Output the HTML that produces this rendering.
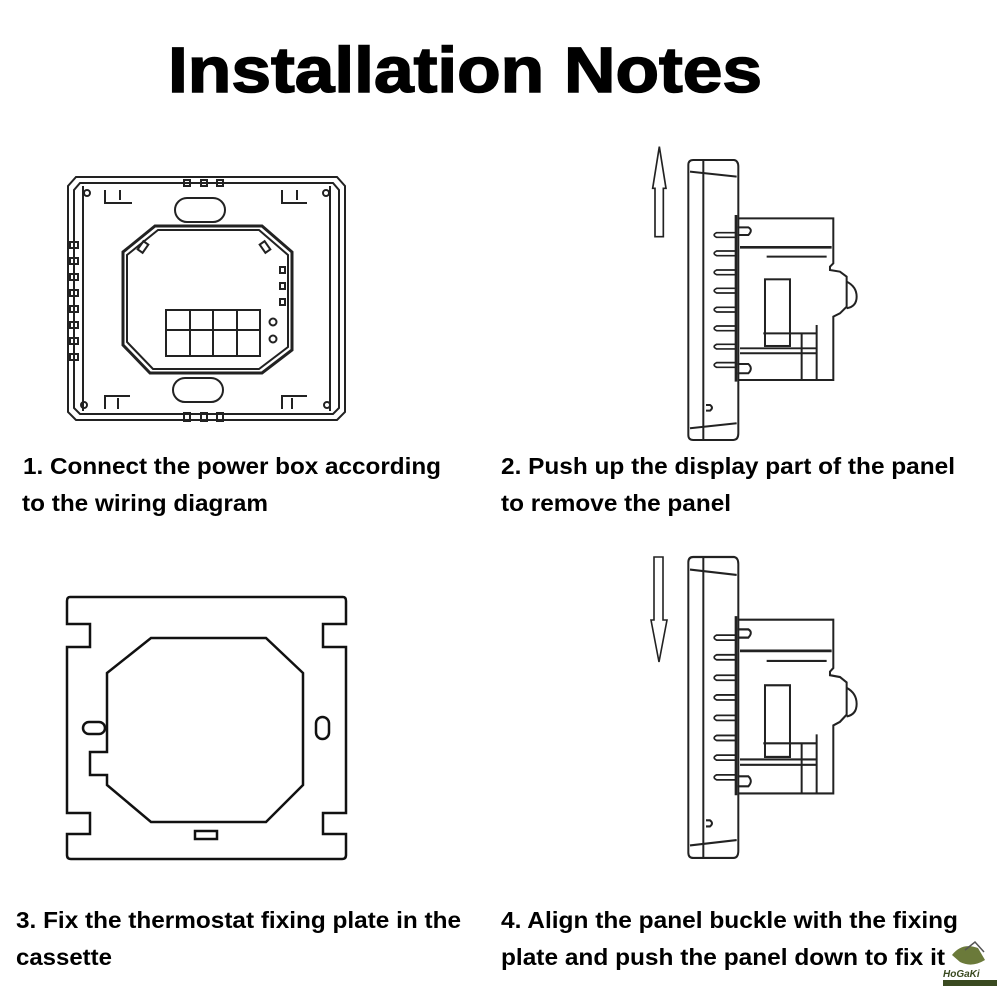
<!DOCTYPE html>
<html><head><meta charset="utf-8"><style>
html,body{margin:0;padding:0;background:#fff}
svg{display:block}
text{font-family:"Liberation Sans",Arial,sans-serif;font-weight:bold;fill:#000}
</style></head><body>
<svg width="1000" height="1000" viewBox="0 0 1000 1000" xmlns="http://www.w3.org/2000/svg">
<defs>
<g id="side" fill="none" stroke="#222" stroke-width="6">
  <path d="M175 75 Q175 60 190 60 L312 60 Q325 62 325 80 L325 880 Q325 900 310 900 L190 900 Q175 900 175 885 Z"/>
  <line x1="220" y1="62" x2="220" y2="898"/>
  <line x1="180" y1="95" x2="320" y2="110"/>
  <line x1="180" y1="865" x2="320" y2="850"/>
  <line x1="318" y1="225" x2="318" y2="725" stroke-width="8"/>
  <path d="M325 235 L610 235 L610 370 L600 380 L600 390 L630 395 L650 410 L650 500 L630 520 L610 530 L610 720 L325 720"/>
  <path d="M650 425 Q680 440 680 470 Q680 500 650 505"/>
  <line x1="330" y1="322" x2="605" y2="322" stroke-width="8"/>
  <line x1="410" y1="350" x2="590" y2="350"/>
  <rect x="405" y="418" width="75" height="200"/>
  <line x1="400" y1="580" x2="560" y2="580"/>
  <line x1="560" y1="555" x2="560" y2="720"/>
  <line x1="515" y1="580" x2="515" y2="720"/>
  <line x1="330" y1="625" x2="560" y2="625"/>
  <line x1="330" y1="640" x2="560" y2="640"/>
  <path d="M322 262 L355 262 Q370 270 355 285 L322 285"/>
  <path d="M322 672 L355 672 Q370 685 355 700 L322 700"/>
  <g stroke-width="5">
  <path d="M318 278 L260 278 Q245 285 260 292 L318 292"/>
  <path d="M318 333 L260 333 Q245 340 260 347 L318 347"/>
  <path d="M318 390 L260 390 Q245 397 260 404 L318 404"/>
  <path d="M318 445 L260 445 Q245 452 260 459 L318 459"/>
  <path d="M318 502 L260 502 Q245 509 260 516 L318 516"/>
  <path d="M318 558 L260 558 Q245 565 260 572 L318 572"/>
  <path d="M318 613 L260 613 Q245 620 260 627 L318 627"/>
  <path d="M318 668 L260 668 Q245 675 260 682 L318 682"/>
  </g>
  <path d="M228 795 L240 795 Q252 803 240 812 L228 812"/>
</g>
</defs>

<text x="168" y="92" font-size="64" textLength="594" lengthAdjust="spacingAndGlyphs" stroke="#000" stroke-width="1.5">Installation Notes</text>

<g fill="none" stroke="#222" stroke-width="2">
  <path d="M76 177 L337 177 L345 186 L345 412 L337 420 L76 420 L68 412 L68 186 Z"/>
  <path d="M80 183 L333 183 L339 190 L339 408 L333 414 L80 414 L74 408 L74 190 Z"/>
  <line x1="83" y1="186" x2="83" y2="411"/>
  <line x1="330" y1="186" x2="330" y2="411"/>
  <path d="M155 226 L262 226 L292 252 L292 350 L262 373 L150 373 L123 345 L123 252 Z" stroke-width="3"/>
  <path d="M158 230 L259 230 L288 255 L288 347 L259 369 L153 369 L127 342 L127 255 Z"/>
  <rect x="175" y="198" width="50" height="24" rx="12"/>
  <rect x="173" y="378" width="50" height="24" rx="12"/>
  <rect x="166" y="310" width="94" height="46"/>
  <line x1="166" y1="330" x2="260" y2="330"/>
  <line x1="190" y1="310" x2="190" y2="356"/>
  <line x1="213" y1="310" x2="213" y2="356"/>
  <line x1="237" y1="310" x2="237" y2="356"/>
  <circle cx="273" cy="322" r="3.5"/><circle cx="273" cy="339" r="3.5"/>
  <circle cx="87" cy="193" r="3"/><circle cx="326" cy="193" r="3"/>
  <circle cx="84" cy="405" r="3"/><circle cx="327" cy="405" r="3"/>
  <path d="M105 190 L105 203 L132 203 M120 190 L120 200"/>
  <path d="M282 190 L282 203 L307 203 M297 190 L297 200"/>
  <path d="M105 409 L105 396 L130 396 M118 409 L118 398"/>
  <path d="M282 409 L282 396 L307 396 M292 409 L292 398"/>
  <g><rect x="184" y="180" width="6" height="6"/><rect x="201" y="180" width="6" height="6"/><rect x="217" y="180" width="6" height="6"/>
  <rect x="184" y="413" width="6" height="8"/><rect x="201" y="413" width="6" height="8"/><rect x="217" y="413" width="6" height="8"/></g>
  <g><rect x="70" y="242" width="8" height="6"/><rect x="70" y="258" width="8" height="6"/><rect x="70" y="274" width="8" height="6"/><rect x="70" y="290" width="8" height="6"/><rect x="70" y="306" width="8" height="6"/><rect x="70" y="322" width="8" height="6"/><rect x="70" y="338" width="8" height="6"/><rect x="70" y="354" width="8" height="6"/></g>
  <rect x="280" y="267" width="5" height="6"/><rect x="280" y="283" width="5" height="6"/><rect x="280" y="299" width="5" height="6"/>
  <rect x="140" y="242" width="6" height="10" transform="rotate(35 143 247)"/>
  <rect x="262" y="242" width="6" height="10" transform="rotate(-35 265 247)"/>
</g>

<g transform="translate(630,140) scale(0.3333)">
  <use href="#side"/>
  <path d="M75 290 L75 145 L68 145 L88 20 L108 145 L100 145 L100 290 Z" fill="none" stroke="#222" stroke-width="5"/>
</g>

<g fill="none" stroke="#111" stroke-width="2.5">
  <path d="M70 597 L343 597 Q346 597 346 601 L346 624 L323 624 L323 647 L346 647 L346 813 L323 813 L323 834 L346 834 L346 855 Q346 859 342 859 L71 859 Q67 859 67 855 L67 834 L90 834 L90 813 L67 813 L67 647 L90 647 L90 624 L67 624 L67 601 Q67 597 70 597 Z"/>
  <path d="M151 638 L266 638 L303 673 L303 785 L266 822 L151 822 L107 785 L107 775 L90 775 L90 752 L107 752 L107 673 Z"/>
  <rect x="83" y="722" width="22" height="12" rx="6"/>
  <rect x="316" y="717" width="13" height="22" rx="6.5"/>
  <rect x="195" y="831" width="22" height="8"/>
</g>

<g transform="matrix(0.3333 0 0 0.3583 630 535.5)">
  <use href="#side"/>
</g>
<path d="M654 557 L663 557 L663 620 L667 620 L659 662 L651 620 L654 620 Z" fill="none" stroke="#222" stroke-width="1.6"/>

<g font-size="23">
<text x="23" y="474" textLength="418" lengthAdjust="spacingAndGlyphs">1. Connect the power box according</text>
<text x="22" y="511" textLength="246" lengthAdjust="spacingAndGlyphs">to the wiring diagram</text>
<text x="501" y="474" textLength="454" lengthAdjust="spacingAndGlyphs">2. Push up the display part of the panel</text>
<text x="501" y="511" textLength="230" lengthAdjust="spacingAndGlyphs">to remove the panel</text>
<text x="16" y="928" textLength="445" lengthAdjust="spacingAndGlyphs">3. Fix the thermostat fixing plate in the</text>
<text x="16" y="965" textLength="96" lengthAdjust="spacingAndGlyphs">cassette</text>
<text x="501" y="928" textLength="457" lengthAdjust="spacingAndGlyphs">4. Align the panel buckle with the fixing</text>
<text x="501" y="965" textLength="444" lengthAdjust="spacingAndGlyphs">plate and push the panel down to fix it</text>
</g>

<path d="M952 955 Q962 942 978 948 L985 960 Q972 968 960 962 Z" fill="#6b7a3a"/>
<path d="M965 950 L975 942 L984 952" fill="none" stroke="#555" stroke-width="1.5"/>
<text x="943" y="977" font-size="10" font-style="italic" style="fill:#3a4a20">HoGaKi</text>
<rect x="943" y="980" width="54" height="6" fill="#3a4a20"/>
</svg>
</body></html>
